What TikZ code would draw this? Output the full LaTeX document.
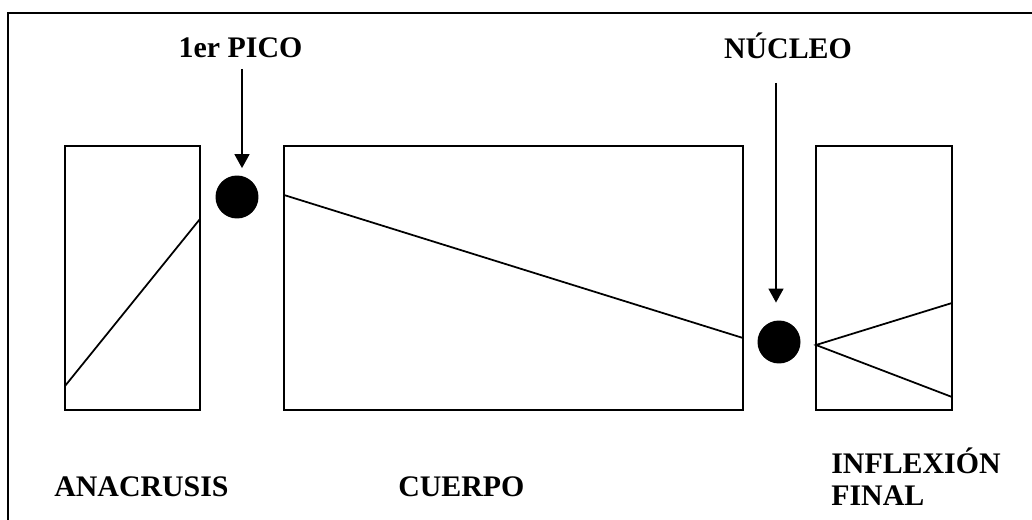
\documentclass[tikz,border=0pt]{standalone}
\usepackage{fontspec}
\setmainfont{Liberation Serif}
\usetikzlibrary{arrows.meta}
\tikzset{
  caja/.style={draw,line width=1.1pt,minimum width=#1,minimum height=5.28cm,inner sep=0pt},
  punto/.style={circle,fill=black,minimum width=0.82cm,minimum height=0.86cm,inner sep=0pt},
  rotulo/.style={font=\fontsize{17}{18.2}\selectfont\bfseries,inner sep=0pt},
  flecha/.style={line width=1.1pt,-{Triangle[width=8.5pt,length=8pt]}},
}

\begin{document}
\begin{tikzpicture}[x=0.02cm,y=-0.02cm]
  \useasboundingbox (0,0) rectangle (1032,520);
  \clip (0,0) rectangle (1032,520);
  \draw[line width=0.8pt] (8,540) |- (1050,13);
  % cajas
  \node[caja=2.7cm] (anacrusis) at (132.5,278) {};
  \node[caja=9.18cm] (cuerpo) at (513.5,278) {};
  \node[caja=2.72cm] (inflexion) at (884,278) {};
  \draw[line width=1pt] (65,386) -- (200,219);
  \draw[line width=1pt] (284,195) -- (743,338);
  \draw[line width=1pt] (952,303) -- (816,345) -- (952,397);
  % puntos
  \node[punto] (pico) at (237,197) {};
  \node[punto] (nucleo) at (779,342) {};
  % rotulos
  \node[rotulo,anchor=base] (lpico) at (240.5,58) {1er PICO};
  \node[rotulo,anchor=base] (lnucleo) at (788,59) {NÚCLEO};
  \node[rotulo,anchor=base west] (lanacrusis) at (54,497) {ANACRUSIS};
  \node[rotulo,anchor=base west] (lcuerpo) at (398,497) {CUERPO};
  \node[rotulo,anchor=base west,align=left] (linflexion) at (831,505) {INFLEXIÓN\\FINAL};
  % flechas
  \coordinate (a1) at (242,69);
  \coordinate (a2) at (776,83);
  \draw[flecha,shorten >=4pt] (a1) -- (a1 |- pico.north);
  \draw[flecha,shorten >=10pt] (a2) -- (a2 |- nucleo.north);
\end{tikzpicture}
\end{document}
